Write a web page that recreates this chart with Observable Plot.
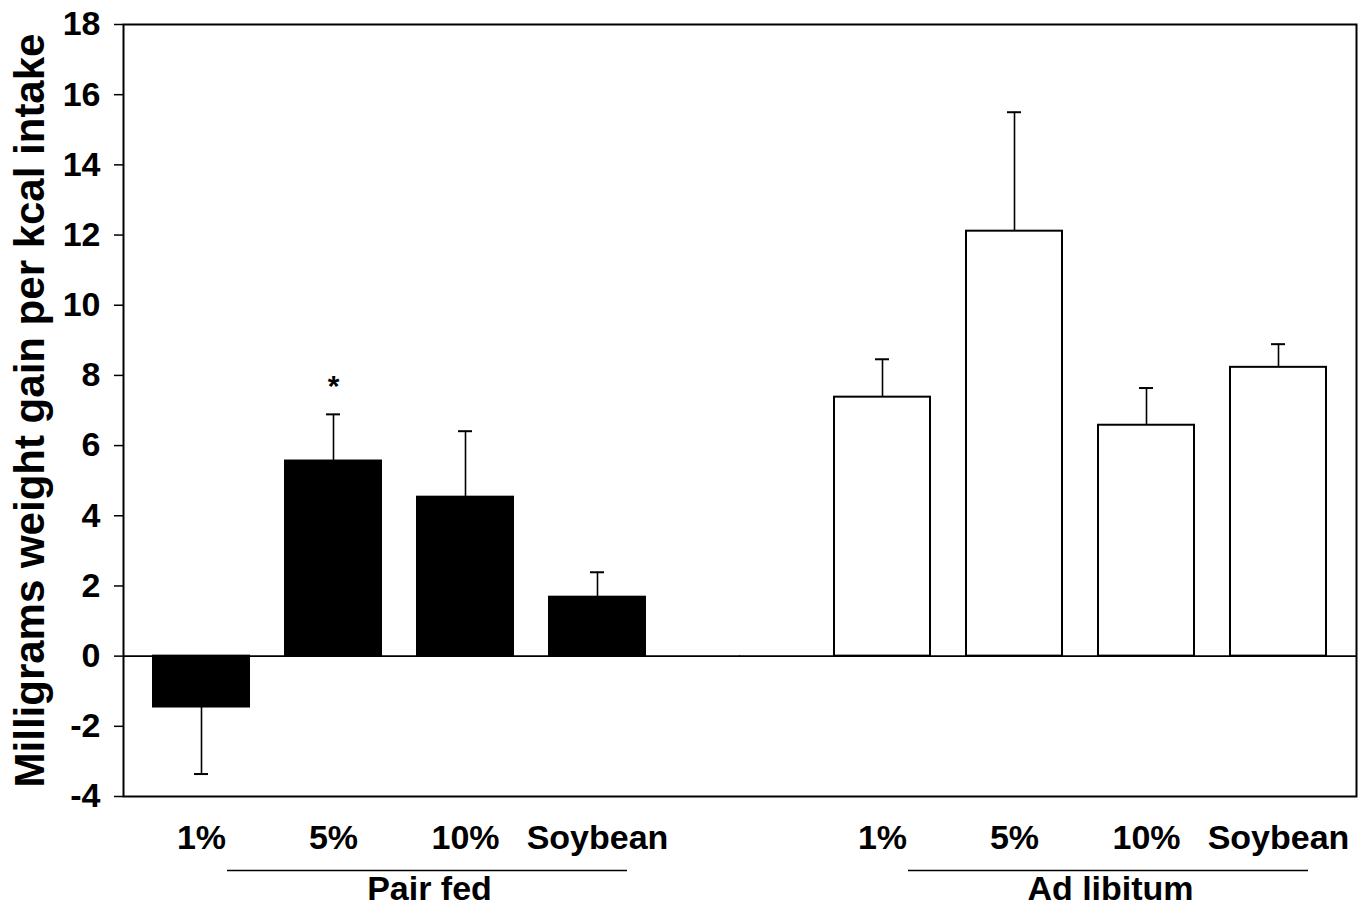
<!DOCTYPE html>
<html>
<head>
<meta charset="utf-8">
<script src="https://cdn.jsdelivr.net/npm/d3@7"></script>
<script src="https://cdn.jsdelivr.net/npm/@observablehq/plot@0.6"></script>
<style>
  html, body { margin: 0; padding: 0; background: white; }
</style>
</head>
<body>
<div id="chart"></div>
<script>
// ---- data ----
const groups = ["Pair fed", "Ad libitum"];
const categories = ["1%", "5%", "10%", "Soybean"];
const pairFedMeans = [-1.45, 5.56, 4.53, 1.68];
const pairFedSE = [1.91, 1.33, 1.88, 0.71];
const adLibMeans = [7.38, 12.11, 6.58, 8.23];
const adLibSE = [1.08, 3.39, 1.06, 0.66];
const yTicks = [-4, -2, 0, 2, 4, 6, 8, 10, 12, 14, 16, 18];
const yDomain = [-4, 18];
const yTitle = "Milligrams weight gain per kcal intake";
const stars = [{group: "Pair fed", cat: "5%", label: "*"}];

// ---- table ----
const rows = [];
categories.forEach((c, i) => rows.push({group: groups[0], cat: c, mean: pairFedMeans[i], se: pairFedSE[i]}));
categories.forEach((c, i) => rows.push({group: groups[1], cat: c, mean: adLibMeans[i], se: adLibSE[i]}));
const errEnd = d => d.mean + (d.mean < 0 ? -d.se : d.se);
const starRows = stars.map(s => ({...s, y: errEnd(rows.find(r => r.group === s.group && r.cat === s.cat))}));

const font = '"Liberation Sans", Arial, Helvetica, sans-serif';

const chart = Plot.plot({
  width: 1368,
  height: 908,
  marginTop: 24,
  marginBottom: 112,
  marginLeft: 123,
  marginRight: 12,
  style: {fontFamily: font, background: "white", color: "black"},
  fx: {domain: groups, paddingInner: 0.19, paddingOuter: 0},
  x: {domain: categories, paddingInner: 0.27, paddingOuter: 0.225},
  y: {domain: yDomain},
  color: {domain: groups, range: ["black", "white"]},
  marks: [
    Plot.barY(rows, {fx: "group", x: "cat", y: "mean", fill: "group", stroke: "black", strokeWidth: 2}),
    Plot.ruleX(rows, {fx: "group", x: "cat", y1: "mean", y2: errEnd, stroke: "black", strokeWidth: 1.6}),
    Plot.tickY(rows, {fx: "group", x: "cat", y: errEnd, stroke: "black", strokeWidth: 2, insetLeft: 41, insetRight: 41}),
    Plot.text(starRows, {fx: "group", x: "cat", y: "y", text: "label", dy: -28, fontSize: 30, fontWeight: "bold"}),
    // zero line, continuous across the gap between the two groups
    Plot.ruleY([{group: groups[0]}], {fx: "group", y: () => 0, insetRight: -65, stroke: "black", strokeWidth: 1.6}),
    Plot.ruleY([{group: groups[1]}], {fx: "group", y: () => 0, insetLeft: -65, stroke: "black", strokeWidth: 1.6}),
    Plot.frame({facet: "super", stroke: "black", strokeWidth: 2}),
    Plot.axisY({ticks: yTicks, tickFormat: d => String(d), tickSize: 9, tickPadding: 14, fontSize: 34, fontWeight: "bold", label: null, strokeWidth: 1.5}),
    Plot.axisX({tickSize: 0, tickPadding: 28, fontSize: 34, fontWeight: "bold", label: null}),
    Plot.axisFx({anchor: "bottom", tickSize: 0, tickPadding: 79, fontSize: 34, fontWeight: "bold", label: null, dx: 30}),
    Plot.ruleY(groups, {fx: Plot.identity, y: () => yDomain[0], dy: 74, insetLeft: 104, insetRight: 48, stroke: "black", strokeWidth: 1.6}),
    Plot.text([yTitle], {facet: "super", frameAnchor: "left", textAnchor: "middle", rotate: -90, dx: -93, fontSize: 42, fontWeight: "bold"})
  ]
});
document.getElementById("chart").appendChild(chart);
</script>
</body>
</html>
